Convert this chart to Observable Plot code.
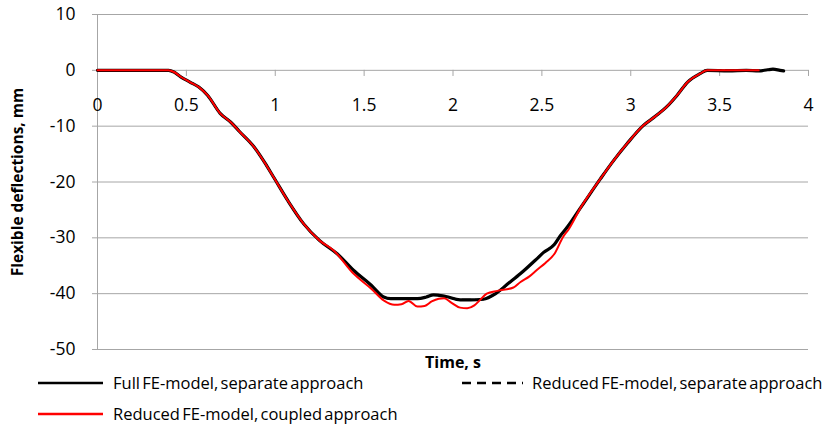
<!DOCTYPE html>
<html>
<head>
<meta charset="utf-8">
<script src="https://cdn.jsdelivr.net/npm/d3@7"></script>
<script src="https://cdn.jsdelivr.net/npm/@observablehq/plot@0.6"></script>
<style>
  body { margin: 0; background: #fff; font-family: "Open Sans", sans-serif; }
  #wrap { width: 828px; }
  #legend { position: relative; width: 828px; height: 52px; font-size: 16.5px; color: #000; }
  .lbl { position: absolute; white-space: nowrap; line-height: 20px; word-spacing: -2px; }
</style>
</head>
<body>
<div id="wrap"></div>
<script>
// ---- data ----
const xTicks = [0, 0.5, 1, 1.5, 2, 2.5, 3, 3.5, 4];
const yTicks = [-50, -40, -30, -20, -10, 0, 10];

const seriesNames = [
  "Full FE-model, separate approach",
  "Reduced FE-model, separate approach",
  "Reduced FE-model, coupled approach"
];

// Full FE-model, separate approach
const fullT = [0, 0.40, 0.43, 0.47, 0.52, 0.57, 0.62, 0.69, 0.75, 0.80, 0.88, 0.94, 0.99, 1.07, 1.16, 1.25, 1.35, 1.44, 1.54, 1.61, 1.65, 1.72, 1.80, 1.85, 1.89, 1.96, 2.04, 2.10, 2.17, 2.24, 2.31, 2.38, 2.47, 2.51, 2.57, 2.60, 2.64, 2.72, 2.83, 2.90, 2.98, 3.07, 3.14, 3.20, 3.26, 3.32, 3.39, 3.43, 3.55, 3.65, 3.72, 3.77, 3.80, 3.84, 3.86];
const fullV = [0, 0, -0.3, -1.2, -2.1, -3.0, -4.5, -7.7, -9.3, -11.0, -13.7, -16.5, -19.1, -23.3, -27.5, -30.5, -32.9, -35.8, -38.5, -40.6, -40.9, -40.9, -40.9, -40.6, -40.2, -40.5, -41.1, -41.1, -41.0, -40.0, -38.2, -36.4, -33.8, -32.6, -31.2, -29.8, -28.2, -24.5, -19.4, -16.3, -13.1, -9.9, -8.2, -6.6, -4.5, -2.1, -0.6, 0, -0.1, 0, -0.1, 0.1, 0.2, 0, -0.1];

// Reduced FE-model, separate approach (coincides with the full model)
const redSepT = [0, 0.40, 0.43, 0.47, 0.52, 0.57, 0.62, 0.69, 0.75, 0.80, 0.88, 0.94, 0.99, 1.07, 1.16, 1.25, 1.35, 1.44, 1.54, 1.61, 1.65, 1.72, 1.80, 1.85, 1.89, 1.96, 2.04, 2.10, 2.17, 2.24, 2.31, 2.38, 2.47, 2.51, 2.57, 2.60, 2.64, 2.72, 2.83, 2.90, 2.98, 3.07, 3.14, 3.20, 3.26, 3.32, 3.39, 3.43, 3.55, 3.65, 3.72];
const redSepV = [0, 0, -0.3, -1.2, -2.1, -3.0, -4.5, -7.7, -9.3, -11.0, -13.7, -16.5, -19.1, -23.3, -27.5, -30.5, -32.9, -35.8, -38.5, -40.6, -40.9, -40.9, -40.9, -40.6, -40.2, -40.5, -41.1, -41.1, -41.0, -40.0, -38.2, -36.4, -33.8, -32.6, -31.2, -29.8, -28.2, -24.5, -19.4, -16.3, -13.1, -9.9, -8.2, -6.6, -4.5, -2.1, -0.6, 0, 0, 0, 0];

// Reduced FE-model, coupled approach
const coupT = [0, 0.40, 0.43, 0.47, 0.52, 0.57, 0.62, 0.69, 0.75, 0.80, 0.88, 0.94, 0.99, 1.07, 1.16, 1.25, 1.33, 1.44, 1.54, 1.61, 1.67, 1.71, 1.75, 1.80, 1.84, 1.88, 1.92, 1.95, 1.99, 2.04, 2.08, 2.12, 2.15, 2.19, 2.25, 2.34, 2.38, 2.43, 2.47, 2.52, 2.57, 2.62, 2.65, 2.72, 2.83, 2.90, 2.98, 3.07, 3.14, 3.20, 3.26, 3.32, 3.39, 3.43, 3.55, 3.65, 3.72];
const coupV = [0, 0, -0.3, -1.2, -2.1, -3.0, -4.5, -7.7, -9.3, -11.0, -13.7, -16.5, -19.1, -23.3, -27.5, -30.5, -32.3, -36.4, -39.1, -41.2, -42.0, -41.9, -41.3, -42.3, -42.2, -41.4, -40.9, -40.8, -41.6, -42.5, -42.6, -42.1, -41.2, -40.0, -39.5, -38.9, -37.9, -36.9, -35.8, -34.5, -32.9, -29.8, -28.5, -24.5, -19.4, -16.3, -13.1, -9.9, -8.2, -6.6, -4.5, -2.1, -0.6, 0, 0, 0, 0];

const colors = ["#000000", "#000000", "#ff0000"];

// ---- build tables ----
const toRows = (T, V) => T.map((t, i) => ({t, v: V[i]}));
const fullRows = toRows(fullT, fullV);
const redSepRows = toRows(redSepT, redSepV);
const coupRows = toRows(coupT, coupV);

const gridColor = "#a6a6a6";
const font = "'Open Sans', sans-serif";

const chart = Plot.plot({
  width: 828,
  height: 372,
  marginLeft: 97,
  marginRight: 20,
  marginTop: 14,
  marginBottom: 23,
  style: {fontFamily: font, background: "#fff", overflow: "visible"},
  x: {domain: [0, 4], axis: null},
  y: {domain: [-50, 10], axis: null},
  marks: [
    Plot.gridY(yTicks, {stroke: gridColor, strokeOpacity: 1, strokeWidth: 1}),
    Plot.ruleX([0], {y1: -50, y2: 10, stroke: gridColor, strokeWidth: 1}),
    Plot.axisY(yTicks, {
      tickSize: 5, tickPadding: 17, stroke: gridColor, strokeOpacity: 1,
      tickFormat: d => String(d), fontSize: 17.5, fill: "#000", label: null
    }),
    Plot.ruleX(xTicks, {x: d => d, y1: 0, y2: -1.1, stroke: gridColor, strokeWidth: 1}),
    Plot.text(xTicks, {x: d => d, y: 0, dy: 35, text: d => String(d), fontSize: 17.5, fill: "#000"}),
    Plot.text(["Time, s"], {frameAnchor: "bottom", dy: 18, fontSize: 16, fontWeight: "bold", fill: "#000"}),
    Plot.text(["Flexible deflections, mm"], {frameAnchor: "left", textAnchor: "middle", rotate: -90, dx: -79, fontSize: 15.5, fontWeight: "bold", fill: "#000"}),
    Plot.line(fullRows, {x: "t", y: "v", stroke: colors[0], strokeWidth: 3.2, curve: "monotone-x"}),
    Plot.line(redSepRows, {x: "t", y: "v", stroke: colors[1], strokeWidth: 2, strokeDasharray: "8,5", curve: "monotone-x"}),
    Plot.line(coupRows, {x: "t", y: "v", stroke: colors[2], strokeWidth: 2, curve: "monotone-x"})
  ]
});

const wrap = document.getElementById("wrap");
wrap.appendChild(chart);

// ---- legend ----
const legend = document.createElement("div");
legend.id = "legend";
const legendItems = [
  {name: seriesNames[0], color: colors[0], dash: null, lx: 38, lw: 65, tx: 113, cy: 11},
  {name: seriesNames[1], color: colors[1], dash: "9,6", lx: 462, lw: 61, tx: 532, cy: 11},
  {name: seriesNames[2], color: colors[2], dash: null, lx: 38, lw: 65, tx: 113, cy: 42}
];
for (const it of legendItems) {
  const ns = "http://www.w3.org/2000/svg";
  const svg = document.createElementNS(ns, "svg");
  svg.setAttribute("width", it.lw);
  svg.setAttribute("height", 6);
  svg.style.position = "absolute";
  svg.style.left = it.lx + "px";
  svg.style.top = (it.cy - 3) + "px";
  const ln = document.createElementNS(ns, "line");
  ln.setAttribute("x1", 0); ln.setAttribute("x2", it.lw);
  ln.setAttribute("y1", 3); ln.setAttribute("y2", 3);
  ln.setAttribute("stroke", it.color);
  ln.setAttribute("stroke-width", 2.5);
  if (it.dash) ln.setAttribute("stroke-dasharray", it.dash);
  svg.appendChild(ln);
  legend.appendChild(svg);
  const t = document.createElement("div");
  t.className = "lbl";
  t.textContent = it.name;
  t.style.left = it.tx + "px";
  t.style.top = (it.cy - 10) + "px";
  legend.appendChild(t);
}
wrap.appendChild(legend);
</script>
</body>
</html>
